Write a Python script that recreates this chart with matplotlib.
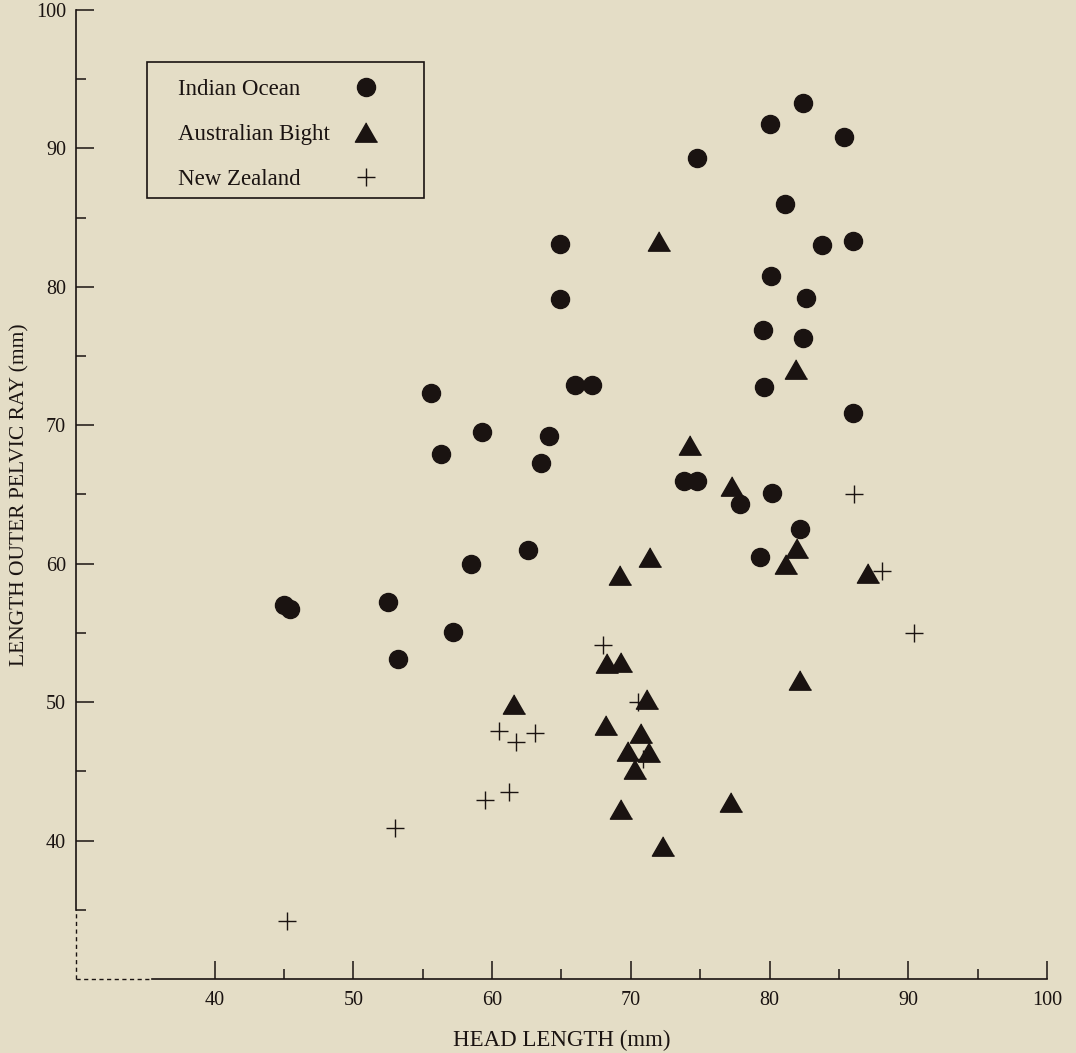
#!/usr/bin/env python3

import matplotlib
matplotlib.use('Agg')
import matplotlib.pyplot as plt
from matplotlib.lines import Line2D
from matplotlib.patches import Rectangle

plt.rcParams['font.family'] = ['Liberation Serif', 'DejaVu Serif']
plt.rcParams['font.size'] = 14

# Indian Ocean (circles)
indian_x = [82.4, 80.0, 85.4, 74.8, 81.1, 64.9, 83.8, 86.0, 80.1, 64.9,
            82.6, 79.5, 82.4, 79.6, 86.0, 77.9, 80.2, 82.2, 79.3, 55.6,
            66.0, 67.2, 59.3, 64.1, 56.3, 63.5, 62.6, 58.5, 45.0, 45.4,
            52.5, 57.2, 53.2, 73.8, 74.8]
indian_y = [93.3, 91.8, 90.8, 89.3, 86.0, 83.1, 83.0, 83.3, 80.8, 79.1,
            79.2, 76.9, 76.3, 72.8, 70.9, 64.3, 65.1, 62.5, 60.5, 72.3,
            72.9, 72.9, 69.5, 69.2, 67.9, 67.3, 61.0, 60.0, 57.0, 56.7,
            57.2, 55.1, 53.1, 66.0, 66.0]

# Australian Bight (triangles)
bight_x = [72.0, 81.9, 74.3, 77.3, 82.0, 81.2, 87.1, 82.2, 61.6, 71.4,
           69.2, 68.3, 69.3, 71.2, 68.2, 70.7, 69.8, 71.3, 70.3, 77.2,
           69.3, 72.3]
bight_y = [83.3, 74.1, 68.6, 65.6, 61.1, 60.0, 59.3, 51.6, 49.9, 60.5,
           59.2, 52.8, 52.9, 50.2, 48.35, 47.75, 46.5, 46.4, 45.2, 42.8,
           42.3, 39.6]

# New Zealand (crosses)
nz_x = [86.1, 88.1, 90.4, 68.0, 70.5, 70.9, 60.5, 61.7, 63.1, 59.5,
        61.2, 53.0, 45.2]
nz_y = [65.0, 59.5, 55.0, 54.1, 50.0, 45.9, 47.9, 47.1, 47.8, 42.9,
        43.5, 40.9, 34.2]

labels = ['Indian Ocean', 'Australian Bight', 'New Zealand']

bg = '#e4ddc6'
ink = '#1a1311'

fig = plt.figure(figsize=(10.76, 10.53), dpi=100, facecolor=bg)
ax = fig.add_axes([0.0706, 0.0703, 0.9024, 0.9202], facecolor=bg)

tri = [(0, 0.87), (-1, -0.87), (1, -0.87)]

ax.plot(indian_x, indian_y, 'o', ms=13, color=ink, mec=ink, ls='none', clip_on=False)
ax.plot(bight_x, bight_y, marker=tri, ms=16, color=ink, mec=ink, ls='none', clip_on=False)
ax.plot(nz_x, nz_y, '+', ms=13, mew=1.0, color=ink, ls='none', clip_on=False)

ax.set_xlim(30, 100)
ax.set_ylim(30, 100)

for s in ['top', 'right']:
    ax.spines[s].set_visible(False)
ax.spines['left'].set_bounds(35, 100)
ax.spines['bottom'].set_bounds(35.5, 100)
for s in ['left', 'bottom']:
    ax.spines[s].set_linewidth(1.2)
    ax.spines[s].set_color(ink)
# dashed part down to the origin
ax.plot([30, 30], [30, 35], ls=(0, (3, 2.5)), lw=1.0, color=ink, clip_on=False)
ax.plot([30, 35.5], [30, 30], ls=(0, (3, 2.5)), lw=1.0, color=ink, clip_on=False)

ax.set_xticks(range(40, 101, 10))
ax.set_xticks(range(45, 100, 10), minor=True)
ax.set_yticks(range(40, 101, 10))
ax.set_yticks(range(35, 100, 10), minor=True)
ax.tick_params(which='major', direction='in', length=13, width=1.1, color=ink,
               labelsize=14.5, labelcolor=ink)
ax.tick_params(which='minor', direction='in', length=7, width=1.1, color=ink)
ax.tick_params(axis='x', which='major', pad=9)
ax.tick_params(axis='y', which='major', pad=7)

ax.set_xlabel('HEAD LENGTH (mm)', fontsize=16.5, color=ink, labelpad=14)
ax.set_ylabel('LENGTH OUTER PELVIC RAY (mm)', fontsize=15.5, color=ink, labelpad=5)

# legend box
ax.add_patch(Rectangle((0.0731, 0.806), 0.2853, 0.1403, transform=ax.transAxes,
                       fill=False, edgecolor=ink, lw=1.2, clip_on=False))

leg_kw = dict(loc='upper left', bbox_to_anchor=(0.105, 0.929), fontsize=16.5,
              frameon=False, borderpad=0, borderaxespad=0, labelspacing=1.05)

# texts, left aligned
blank = [Line2D([], [], ls='none') for _ in labels]
leg_txt = ax.legend(blank, labels, handlelength=0, handletextpad=0, **leg_kw)
for t in leg_txt.get_texts():
    t.set_color(ink)
ax.add_artist(leg_txt)

# symbols, in a column right of the texts
handles = [
    Line2D([], [], marker='o', ms=13, color=ink, ls='none'),
    Line2D([], [], marker=tri, ms=16, color=ink, ls='none'),
    Line2D([], [], marker='+', ms=13, mew=1.0, color=ink, ls='none'),
]
leg_sym = ax.legend(handles, labels, markerfirst=False, handlelength=2.0,
                    handletextpad=0.6, **leg_kw)
for t in leg_sym.get_texts():
    t.set_alpha(0)

fig.savefig('out.png', dpi=100, facecolor=bg)
